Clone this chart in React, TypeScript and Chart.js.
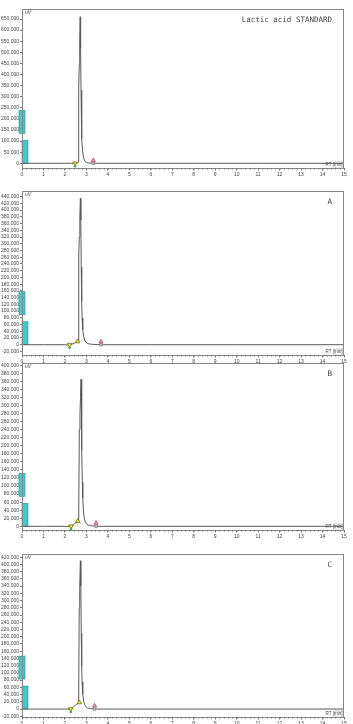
import React, { useEffect, useRef } from "react";
import { Chart, registerables } from "chart.js";
Chart.register(...registerables);

// ---------- DATA ----------
const rtTicks = [0, 1, 2, 3, 4, 5, 6, 7, 8, 9, 10, 11, 12, 13, 14, 15];
const yTicksStd = [0, 50000, 100000, 150000, 200000, 250000, 300000, 350000, 400000, 450000, 500000, 550000, 600000, 650000];
const yTicksA = [-20000, 0, 20000, 40000, 60000, 80000, 100000, 120000, 140000, 160000, 180000, 200000, 220000, 240000, 260000, 280000, 300000, 320000, 340000, 360000, 380000, 400000, 420000, 440000];
const yTicksB = [0, 20000, 40000, 60000, 80000, 100000, 120000, 140000, 160000, 180000, 200000, 220000, 240000, 260000, 280000, 300000, 320000, 340000, 360000, 380000, 400000];
const yTicksC = [-20000, 0, 20000, 40000, 60000, 80000, 100000, 120000, 140000, 160000, 180000, 200000, 220000, 240000, 260000, 280000, 300000, 320000, 340000, 360000, 380000, 400000, 420000];

const rtStd = [0, 1, 2, 2.3, 2.45, 2.5, 2.55, 2.6, 2.62, 2.64, 2.67, 2.69, 2.71, 2.73, 2.75, 2.77, 2.79, 2.82, 2.86, 2.9, 2.95, 3.0, 3.1, 3.3, 3.5, 5, 8, 11, 15];
const sigStd = [0, 0, 0, 0, -500, 500, 1500, 3000, 5000, 335000, 450000, 560000, 660000, 520000, 330000, 180000, 110000, 60000, 30000, 15000, 7000, 3500, 1500, 500, 0, 0, 0, 0, 0];

const rtA = [0, 1, 2, 2.22, 2.35, 2.45, 2.52, 2.58, 2.62, 2.645, 2.67, 2.695, 2.72, 2.74, 2.76, 2.78, 2.8, 2.83, 2.87, 2.92, 2.98, 3.05, 3.15, 3.3, 3.5, 3.68, 4, 6, 10, 15];
const sigA = [0, 0, 0, -1000, 2000, 5000, 8000, 9500, 12000, 270000, 320000, 380000, 435000, 370000, 230000, 130000, 80000, 45000, 25000, 13000, 7000, 4000, 2000, 1000, 500, 0, 0, 0, 0, 0];

const rtB = [0, 1, 2, 2.28, 2.4, 2.5, 2.56, 2.6, 2.64, 2.67, 2.7, 2.725, 2.75, 2.77, 2.79, 2.81, 2.83, 2.86, 2.9, 2.95, 3.0, 3.08, 3.2, 3.45, 4, 15];
const sigB = [0, 0, 0, -500, 4000, 9000, 12000, 13000, 15000, 240000, 280000, 320000, 365000, 300000, 190000, 110000, 70000, 40000, 20000, 11000, 6000, 3000, 1500, 0, 0, 0];

const rtC = [0, 1, 2, 2.27, 2.4, 2.5, 2.58, 2.64, 2.665, 2.69, 2.72, 2.74, 2.76, 2.78, 2.8, 2.83, 2.87, 2.92, 2.98, 3.05, 3.2, 3.38, 4, 15];
const sigC = [0, 0, 0, -500, 6000, 11000, 15000, 18000, 280000, 340000, 410000, 340000, 210000, 120000, 75000, 42000, 22000, 12000, 6000, 3000, 1200, 0, 0, 0];

// peak start / shoulder / end markers
const startRtStd = [2.47];
const startSigStd = [0];
const bumpRtStd: number[] = [];
const bumpSigStd: number[] = [];
const endRtStd = [3.32];
const endSigStd = [0];
const endFlagSigStd = [13000];

const startRtA = [2.22];
const startSigA = [0];
const bumpRtA = [2.59];
const bumpSigA = [9500];
const endRtA = [3.68];
const endSigA = [0];
const endFlagSigA = [9000];

const startRtB = [2.28];
const startSigB = [0];
const bumpRtB = [2.6];
const bumpSigB = [13000];
const endRtB = [3.45];
const endSigB = [0];
const endFlagSigB = [8000];

const startRtC = [2.27];
const startSigC = [0];
const bumpRtC = [2.67];
const bumpSigC = [18000];
const endRtC = [3.38];
const endSigC = [0];
const endFlagSigC = [9000];

const labels = ["Lactic acid STANDARD", "A", "B", "C"];

// ---------- LAYOUT ----------
const panels = [
  { top: 0, padTop: 9, height: 178, yMin: -21200, yMax: 695100, yTicks: yTicksStd, label: labels[0], rt: rtStd, sig: sigStd, sR: startRtStd, sS: startSigStd, bR: bumpRtStd, bS: bumpSigStd, eR: endRtStd, eS: endSigStd, eF: endFlagSigStd },
  { top: 180, padTop: 11, height: 185, yMin: -30600, yMax: 456800, yTicks: yTicksA, label: labels[1], rt: rtA, sig: sigA, sR: startRtA, sS: startSigA, bR: bumpRtA, bS: bumpSigA, eR: endRtA, eS: endSigA, eF: endFlagSigA },
  { top: 356, padTop: 7, height: 184, yMin: -9200, yMax: 405700, yTicks: yTicksB, label: labels[2], rt: rtB, sig: sigB, sR: startRtB, sS: startSigB, bR: bumpRtB, bS: bumpSigB, eR: endRtB, eS: endSigB, eF: endFlagSigB },
  { top: 544, padTop: 10, height: 183, yMin: -22000, yMax: 428700, yTicks: yTicksC, label: labels[3], rt: rtC, sig: sigC, sR: startRtC, sS: startSigC, bR: bumpRtC, bS: bumpSigC, eR: endRtC, eS: endSigC, eF: endFlagSigC },
];

const zip = (xs: number[], ys: number[]) => xs.map((x, i) => ({ x, y: ys[i] }));

const decorPlugin = (label: string) => ({
  id: "decor",
  beforeDatasetsDraw(chart: any) {
    const { ctx, scales } = chart;
    const y0 = scales.y.getPixelForValue(0);
    ctx.save();
    ctx.fillStyle = "#38cccc";
    ctx.strokeStyle = "#1a9a9a";
    ctx.lineWidth = 0.6;
    ctx.fillRect(19, y0 - 53, 6, 23);
    ctx.strokeRect(19, y0 - 53, 6, 23);
    ctx.fillRect(22, y0 - 23, 6, 23);
    ctx.strokeRect(22, y0 - 23, 6, 23);
    ctx.restore();
  },
  afterDatasetsDraw(chart: any) {
    const { ctx, chartArea: a, scales } = chart;
    ctx.save();
    ctx.strokeStyle = "#888";
    ctx.lineWidth = 1;
    ctx.strokeRect(Math.round(a.left) + 0.5, Math.round(a.top) + 0.5, Math.round(a.right - a.left) - 1, Math.round(a.bottom - a.top));
    ctx.strokeStyle = "#777";
    ctx.beginPath();
    for (let v = 0; v <= 15.001; v += 0.2) {
      const px = Math.round(scales.x.getPixelForValue(v)) + 0.5;
      ctx.moveTo(px, a.bottom);
      ctx.lineTo(px, a.bottom + 1.5);
    }
    ctx.stroke();
    ctx.fillStyle = "#444";
    ctx.font = "7.5px 'DejaVu Sans Mono'";
    ctx.textAlign = "right";
    ctx.textBaseline = "middle";
    ctx.fillText(label, a.right - 12, a.top + 11);
    ctx.font = "italic 5px 'Liberation Sans'";
    ctx.textAlign = "left";
    ctx.fillText("uV", a.left + 3, a.top + 4);
    ctx.font = "4.5px 'Liberation Sans'";
    ctx.textAlign = "right";
    ctx.fillText("RT [min]", a.right - 1.5, a.bottom - 3);
    ctx.strokeStyle = "#999";
    ctx.lineWidth = 0.5;
    ctx.strokeRect(a.right - 9, a.bottom - 6, 8, 6);
    const meta = chart.getDatasetMeta(1);
    ctx.fillStyle = "#3cb043";
    meta.data.forEach((p: any) => {
      ctx.beginPath();
      ctx.arc(p.x, p.y + 3, 1.3, 0, Math.PI * 2);
      ctx.fill();
    });
    ctx.restore();
  },
});

function Panel({ cfg }: { cfg: any }) {
  const ref = useRef<HTMLCanvasElement>(null);
  useEffect(() => {
    const chart = new Chart(ref.current as HTMLCanvasElement, {
      type: "line",
      data: {
        datasets: [
          { data: zip(cfg.rt, cfg.sig), borderColor: "#5a5a5a", borderWidth: 1, pointRadius: 0, tension: 0, order: 5 } as any,
          { type: "scatter", data: zip(cfg.sR, cfg.sS), pointStyle: "triangle", rotation: 180, pointRadius: 2.6, backgroundColor: "#f2f230", borderColor: "#6b6b00", borderWidth: 0.8, order: 1 } as any,
          { type: "scatter", data: zip(cfg.bR, cfg.bS), pointStyle: "triangle", pointRadius: 2.6, backgroundColor: "#f2f230", borderColor: "#6b6b00", borderWidth: 0.8, order: 1 } as any,
          { type: "scatter", data: zip(cfg.eR, cfg.eS), pointStyle: "rect", pointRadius: 1.8, backgroundColor: "#cfcfcf", borderColor: "#666", borderWidth: 0.6, order: 2 } as any,
          { type: "scatter", data: zip(cfg.eR, cfg.eF), pointStyle: "triangle", pointRadius: 2.4, backgroundColor: "#f3a3b5", borderColor: "#b03050", borderWidth: 0.7, order: 1 } as any,
        ],
      },
      options: {
        responsive: false,
        animation: false,
        devicePixelRatio: 1,
        layout: { padding: { top: cfg.padTop, right: 9, left: 0, bottom: 0 } },
        plugins: { legend: { display: false }, tooltip: { enabled: false } },
        scales: {
          x: {
            type: "linear",
            min: 0,
            max: 15,
            afterBuildTicks: (s: any) => { s.ticks = rtTicks.map((v) => ({ value: v })); },
            ticks: { font: { size: 5, family: "Liberation Sans" }, color: "#444", padding: 1, maxRotation: 0, autoSkip: false },
            grid: { drawOnChartArea: false, tickLength: 2.5, color: "#777" },
            border: { color: "#777" },
            afterFit: (s: any) => { s.height = 10; },
          },
          y: {
            min: cfg.yMin,
            max: cfg.yMax,
            afterBuildTicks: (s: any) => { s.ticks = cfg.yTicks.map((v: number) => ({ value: v })); },
            ticks: { autoSkip: false, font: { size: 5, family: "Liberation Sans" }, color: "#444", padding: 1, callback: (v: any) => Number(v).toLocaleString("en-US") },
            grid: { drawOnChartArea: false, tickLength: 2, color: "#777" },
            border: { color: "#777" },
            afterFit: (s: any) => { s.width = 22; },
          },
        },
      } as any,
      plugins: [decorPlugin(cfg.label)],
    });
    return () => chart.destroy();
  }, []);
  return (
    <canvas
      ref={ref}
      width={353}
      height={cfg.height}
      style={{ position: "absolute", left: 0, top: cfg.top, width: 353, height: cfg.height }}
    />
  );
}

export default function App() {
  return (
    <div style={{ position: "fixed", left: 0, top: 0, width: 353, height: 724, background: "#fff", overflow: "hidden" }}>
      {panels.map((p, i) => (
        <Panel key={i} cfg={p} />
      ))}
    </div>
  );
}
